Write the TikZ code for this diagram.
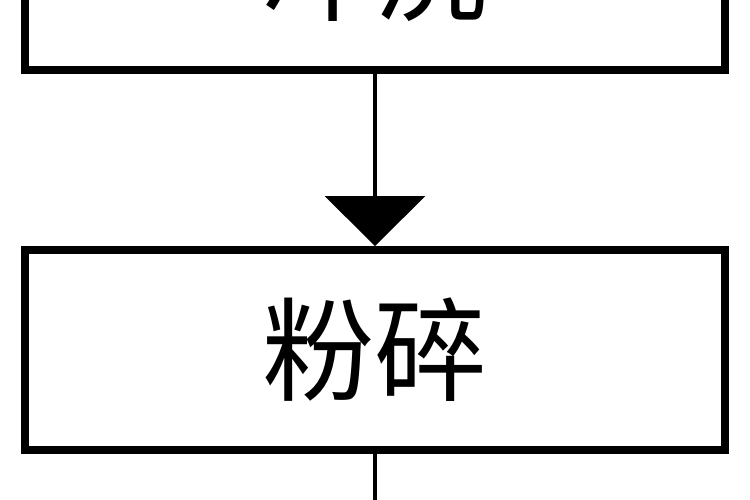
\documentclass[tikz,border=0pt]{standalone}
\usepackage{fontspec}
\newfontfamily\cjk{Noto Sans CJK SC}
\usetikzlibrary{arrows.meta}
\tikzset{stepbox/.style={draw,line width=4.5pt,minimum width=14cm,minimum height=4cm,font=\cjk\fontsize{64}{66}\selectfont},
flow/.style={line width=2.2pt}}
\begin{document}
\begin{tikzpicture}
\useasboundingbox (0,0) rectangle (15,-10);
\clip (0,0) rectangle (15,-10);
\node (wash) at (7.5,0.6) [stepbox] {冲洗};
\node (crush) at (7.5,-7.0) [stepbox] {粉碎};
\coordinate (next) at (7.5,-10.5);
\draw[flow,-{Triangle[length=1cm,width=2cm]}] (wash) -- (crush);
\draw[flow] (crush) -- (next);
\end{tikzpicture}
\end{document}
